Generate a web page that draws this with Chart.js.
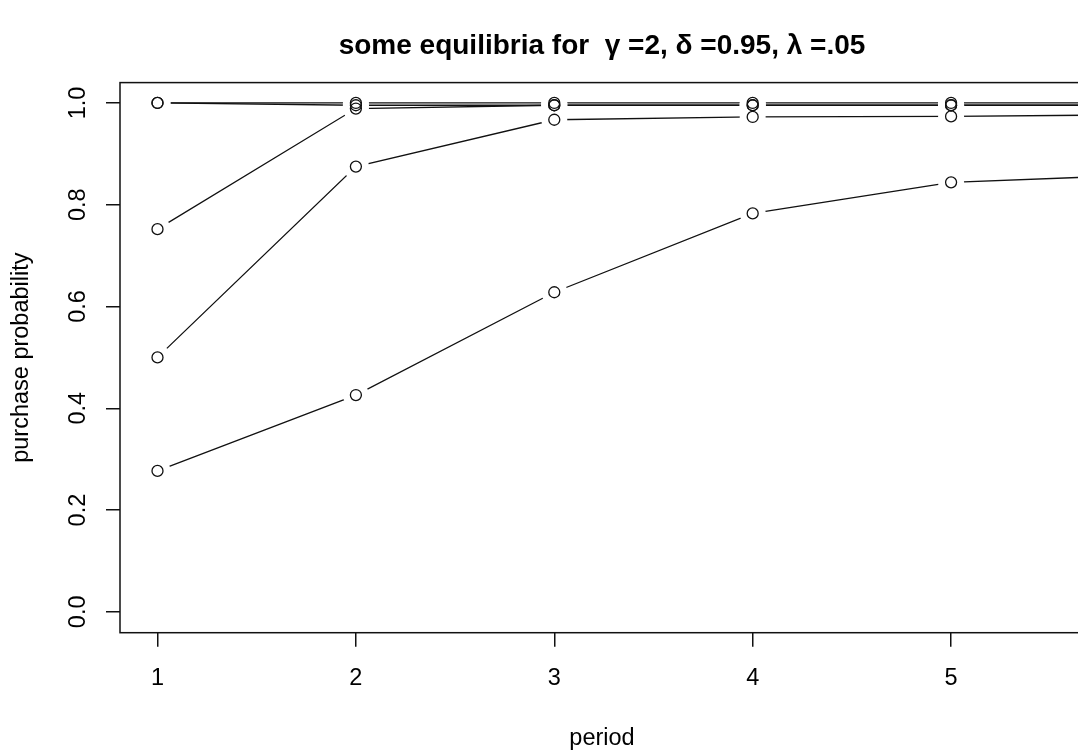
<!DOCTYPE html>
<html>
<head>
<meta charset="utf-8">
<title>some equilibria</title>
<script src="https://cdn.jsdelivr.net/npm/chart.js@4/dist/chart.umd.min.js"></script>
<style>
  html, body { margin: 0; padding: 0; background: #fff; overflow: hidden; }
  #wrap { width: 1204px; height: 752px; }
</style>
</head>
<body>
<div id="wrap"><canvas id="eqChart" width="1204" height="752"></canvas></div>
<script>
/* ── Data ── */
const PERIODS = [1, 2, 3, 4, 5, 6];
const X_TICKS = [1, 2, 3, 4, 5];
const Y_TICKS = [0, 0.2, 0.4, 0.6, 0.8, 1.0];

const EQ_A = [1.0, 1.0, 1.0, 1.0, 1.0, 1.0];
const EQ_B = [1.0, 0.9955, 0.9955, 0.9955, 0.9955, 0.9955];
const EQ_C = [0.752, 0.989, 0.9955, 0.9955, 0.9955, 0.9955];
const EQ_D = [0.5, 0.875, 0.967, 0.9725, 0.9735, 0.977];
const EQ_E = [0.277, 0.426, 0.628, 0.783, 0.844, 0.859];

const SERIES = [EQ_A, EQ_B, EQ_C, EQ_D, EQ_E];

const FONT = "'Liberation Sans', Arial, sans-serif";
const HALO_RADIUS = 13;

/* turn a series into {x, y} points */
function toPoints(values) {
  return PERIODS.map((p, i) => ({ x: p, y: values[i] }));
}

/* R type="b": a line per series, plus an open circle at each point */
const datasets = [];
SERIES.forEach(vals => {
  datasets.push({
    data: toPoints(vals),
    borderColor: '#111',
    borderWidth: 1.3,
    pointRadius: 0,
    tension: 0,
    order: 2
  });
  datasets.push({
    data: toPoints(vals),
    ring: true,
    showLine: false,
    pointRadius: 5.5,
    pointBorderWidth: 1.3,
    pointBorderColor: '#111',
    pointBackgroundColor: 'rgba(0,0,0,0)',
    order: 1
  });
});

/* cut the white gap round each circle, then put the circles back on top */
const haloPlugin = {
  id: 'halo',
  afterLayout(chart) {
    /* y axis has zero layout width; let it draw its labels into the left padding */
    chart.scales.y.left = 0;
  },
  afterDatasetsDraw(chart) {
    const a = chart.chartArea;
    const ctx = chart.ctx;
    const rings = chart.getSortedVisibleDatasetMetas().filter(m => m._dataset.ring);
    ctx.save();
    ctx.beginPath();
    ctx.rect(a.left, a.top, a.right - a.left, a.bottom - a.top);
    ctx.clip();
    ctx.fillStyle = '#fff';
    rings.forEach(m => m.data.forEach(el => {
      ctx.beginPath();
      ctx.arc(el.x, el.y, HALO_RADIUS, 0, Math.PI * 2);
      ctx.fill();
    }));
    rings.forEach(m => m.data.forEach(el => el.draw(ctx, a)));
    ctx.restore();

    /* full box round the plot region, like R's box() */
    ctx.save();
    ctx.strokeStyle = '#111';
    ctx.lineWidth = 1.5;
    ctx.strokeRect(a.left, a.top, a.right - a.left, a.bottom - a.top);
    ctx.restore();
  }
};

/*
 * Plot region runs 120..1084 and the main title is centred over it,
 * so the canvas is padded 120px on both sides.
 */
new Chart(document.getElementById('eqChart'), {
  type: 'line',
  data: { datasets: datasets },
  plugins: [haloPlugin],
  options: {
    responsive: false,
    animation: false,
    events: [],
    layout: { padding: { left: 120, right: 120, top: 0, bottom: 0 }, autoPadding: false },
    plugins: {
      legend: { display: false },
      tooltip: { enabled: false },
      title: {
        display: true,
        text: 'some equilibria for  \u03B3 =2, \u03B4 =0.95, \u03BB =.05',
        color: '#000',
        font: { family: FONT, size: 28, weight: 'bold', lineHeight: 1.2 },
        padding: { top: 29, bottom: 20 }
      }
    },
    scales: {
      x: {
        type: 'linear',
        min: 0.811,
        max: 5.67,
        afterBuildTicks: s => { s.ticks = X_TICKS.map(v => ({ value: v })); },
        afterFit: s => { s.height = 119.3; s.paddingLeft = 0; s.paddingRight = 0; },
        grid: { drawOnChartArea: false, drawTicks: true, tickLength: 14, color: '#111', lineWidth: 1.5 },
        border: { display: false },
        ticks: {
          color: '#000',
          padding: 18,
          autoSkip: false,
          maxRotation: 0,
          font: { family: FONT, size: 23.5 },
          callback: v => String(v)
        },
        title: {
          display: true,
          text: 'period',
          color: '#000',
          font: { family: FONT, size: 23.5, lineHeight: 1.2 },
          padding: { top: 0, bottom: -1 }
        }
      },
      y: {
        type: 'linear',
        min: -0.041,
        max: 1.04,
        afterBuildTicks: s => { s.ticks = Y_TICKS.map(v => ({ value: v })); },
        afterFit: s => { s.width = 0; s.paddingTop = 0; s.paddingBottom = 0; },
        grid: { drawOnChartArea: false, drawTicks: true, tickLength: 14, color: '#111', lineWidth: 1.5 },
        border: { display: false },
        ticks: {
          color: '#000',
          padding: 11,
          autoSkip: false,
          minRotation: 90,
          maxRotation: 90,
          crossAlign: 'center',
          font: { family: FONT, size: 23.5 },
          callback: v => v.toFixed(1)
        },
        title: {
          display: true,
          text: 'purchase probability',
          color: '#000',
          font: { family: FONT, size: 23.5, lineHeight: 1.2 },
          padding: { top: 7, bottom: 0 }
        }
      }
    }
  }
});
</script>
</body>
</html>
